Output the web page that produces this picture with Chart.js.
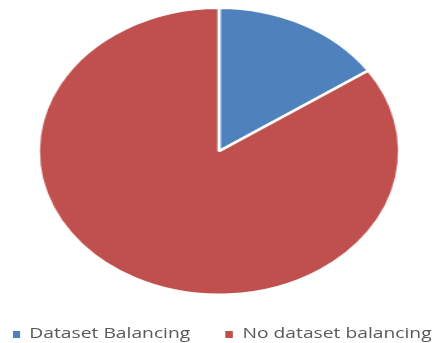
<!DOCTYPE html>
<html>
<head>
<meta charset="utf-8">
<script src="https://cdn.jsdelivr.net/npm/chart.js@4/dist/chart.umd.min.js"></script>
<style>
  html, body { margin: 0; padding: 0; background: #fff; overflow: hidden; }
  #wrap { position: relative; width: 348px; height: 343px; transform: scaleX(1.2586); transform-origin: 0 0; }
  #chartBox { position: absolute; left: 0; top: 0; width: 348px; height: 343px; }
  #legend { position: absolute; left: 9.8px; top: 325.2px; white-space: nowrap;
            font: 15.3px/15.5px 'Open Sans', sans-serif; color: #595959; }
  #legend .item { display: inline-block; margin-right: 28px; }
  #legend .box { display: inline-block; width: 6px; height: 7px; margin-right: 7.5px; vertical-align: baseline; }
</style>
</head>
<body>
<div id="wrap">
  <div id="chartBox"><canvas id="chart"></canvas></div>
  <div id="legend"></div>
</div>
<script>
const labels = ['Dataset Balancing', 'No dataset balancing'];
const values = [15.5, 84.5];
const colors = ['#4F81BD', '#C0504D'];

const chart = new Chart(document.getElementById('chart'), {
  type: 'pie',
  data: {
    labels: labels,
    datasets: [{
      data: values,
      backgroundColor: colors,
      borderColor: '#ffffff',
      borderWidth: 2.5
    }]
  },
  options: {
    responsive: true,
    maintainAspectRatio: false,
    animation: false,
    layout: { padding: { top: 6.5, bottom: 47 } },
    plugins: {
      tooltip: { enabled: false },
      legend: { display: false }
    }
  }
});

// legend drawn as html so it stretches with the chart
const legendEl = document.getElementById('legend');
chart.data.labels.forEach((label, i) => {
  const item = document.createElement('span');
  item.className = 'item';
  const box = document.createElement('span');
  box.className = 'box';
  box.style.background = chart.data.datasets[0].backgroundColor[i];
  item.appendChild(box);
  item.appendChild(document.createTextNode(label));
  legendEl.appendChild(item);
});
</script>
</body>
</html>
